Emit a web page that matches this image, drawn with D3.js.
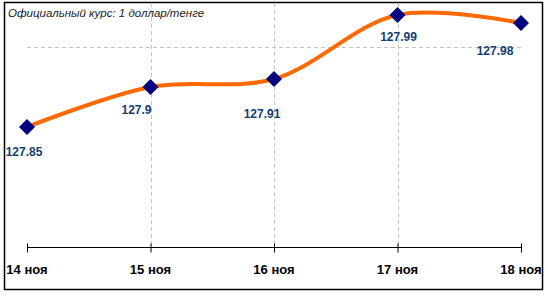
<!DOCTYPE html>
<html>
<head>
    <meta charset="UTF-8">
    <title>Официальный курс</title>
    <style>
        body { margin: 0; padding: 0; background: #fff; }
        svg { display: block; font-family: Arial, "Liberation Sans", sans-serif; }
        .grid { stroke: #c4c4c4; stroke-width: 1; stroke-dasharray: 4,3; }
        .rate { fill: none; stroke: #ff6a00; stroke-width: 4; stroke-linejoin: round; }
        .marker { fill: #000080; }
        .val { fill: #143e70; font-size: 12px; font-weight: bold; text-anchor: middle; }
        .xlab { fill: #000; font-size: 13px; font-weight: bold; text-anchor: middle; }
    </style>
    <script src="https://cdn.jsdelivr.net/npm/d3@7"></script>
</head>
<body>
    <div id="chart"></div>
    <script>
        var days = ["14 ноя", "15 ноя", "16 ноя", "17 ноя", "18 ноя"];
        var rates = [127.85, 127.90, 127.91, 127.99, 127.98];
        var rateLabels = ["127.85", "127.9", "127.91", "127.99", "127.98"];
        var gridValues = [127.95];
        var title = "Официальный курс: 1 доллар/тенге";

        // where each value label sits relative to its marker
        var labelOffsets = [[-3, 25], [-14, 23], [-12, 35], [1, 22], [-26, 28]];

        var W = 548, H = 296;

        var svg = d3.select("#chart").append("svg")
            .attr("width", W)
            .attr("height", H);

        var x = d3.scalePoint().domain(days).range([27, 521]);
        var y = d3.scaleLinear().domain([127.7, 128.0]).range([247, 7]);

        // frame
        svg.append("rect")
            .attr("x", 4.5).attr("y", 2.5)
            .attr("width", 538).attr("height", 287)
            .attr("fill", "#fff")
            .attr("stroke", "#000")
            .attr("stroke-width", 1.5);

        // vertical grid (inner categories)
        svg.selectAll(".vgrid")
            .data(days.slice(1, -1))
            .enter().append("line")
            .attr("class", "grid")
            .attr("x1", function(d) { return Math.round(x(d)) + 0.5; })
            .attr("x2", function(d) { return Math.round(x(d)) + 0.5; })
            .attr("y1", 3)
            .attr("y2", y(127.7));

        svg.selectAll(".hgrid")
            .data(gridValues)
            .enter().append("line")
            .attr("class", "grid")
            .attr("x1", x(days[0]))
            .attr("x2", x(days[days.length - 1]))
            .attr("y1", function(d) { return Math.round(y(d)) + 0.5; })
            .attr("y2", function(d) { return Math.round(y(d)) + 0.5; });

        // x axis
        var axis = svg.append("g")
            .attr("transform", "translate(0," + (y(127.7) + 0.5) + ")")
            .call(d3.axisBottom(x).tickSizeInner(5).tickSizeOuter(0).tickFormat(""));
        axis.select(".domain").attr("stroke", "#000").attr("d", "M" + x(days[0]) + ",0H" + x(days[days.length - 1]));
        axis.selectAll(".tick line").attr("stroke", "#000").attr("y1", -4).attr("y2", 5);

        svg.selectAll(".xlab")
            .data(days)
            .enter().append("text")
            .attr("class", "xlab")
            .attr("x", function(d) { return x(d); })
            .attr("y", 274)
            .text(function(d) { return d; });

        // line
        var line = d3.line()
            .x(function(d, i) { return x(days[i]); })
            .y(function(d) { return y(d); })
            .curve(d3.curveCatmullRom.alpha(0.5));

        svg.append("path")
            .datum(rates)
            .attr("class", "rate")
            .attr("d", line);

        // diamonds
        svg.selectAll(".marker")
            .data(rates)
            .enter().append("path")
            .attr("class", "marker")
            .attr("d", "M0,-8L8,0L0,8L-8,0Z")
            .attr("transform", function(d, i) { return "translate(" + x(days[i]) + "," + y(d) + ")"; });

        // value labels
        svg.selectAll(".val")
            .data(rates)
            .enter().append("text")
            .attr("class", "val")
            .attr("x", function(d, i) { return x(days[i]) + labelOffsets[i][0]; })
            .attr("y", function(d, i) { return y(d) + labelOffsets[i][1]; })
            .attr("dy", "0.35em")
            .text(function(d, i) { return rateLabels[i]; });

        // title
        svg.append("text")
            .attr("x", 8)
            .attr("y", 17)
            .attr("font-size", "11.5px")
            .attr("font-style", "italic")
            .attr("fill", "#222")
            .text(title);
    </script>
</body>
</html>
